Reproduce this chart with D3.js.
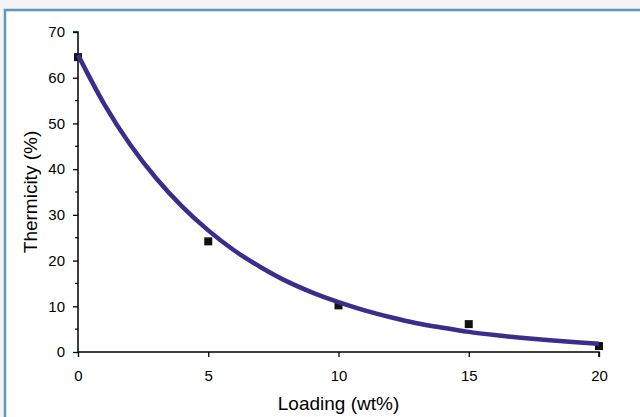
<!DOCTYPE html>
<html><head><meta charset="utf-8">
<script src="https://cdn.jsdelivr.net/npm/d3@7"></script>
<style>
html,body{margin:0;padding:0;background:#f4f4f4;}
svg{display:block;}
</style></head>
<body>
<svg id="chart" width="640" height="417"></svg>
<script>
// Data
const loading = [0, 5, 10, 15, 20];
const thermicity = [64.5, 24.2, 10.2, 6.1, 1.3];
// Fitted trend curve
const curveX = [0, 1, 2, 3, 4, 5, 6, 7, 8, 9, 10, 11, 12, 13, 14, 15, 16, 17, 18, 19, 20];
const curveY = [65.0, 54.3, 45.4, 38.0, 31.8, 26.6, 22.2, 18.6, 15.5, 13.0, 10.9, 9.1, 7.6, 6.3, 5.3, 4.4, 3.7, 3.1, 2.6, 2.2, 1.8];
const xTicks = [0, 5, 10, 15, 20];
const yTicks = [0, 10, 20, 30, 40, 50, 60, 70];
const yMinor = [5, 15, 25, 35, 45, 55, 65];

const svg = d3.select("#chart");
// panel frame
svg.append("rect").attr("x", 5).attr("y", 10).attr("width", 640).attr("height", 420)
  .attr("fill", "#ffffff").attr("stroke", "#5b98b9").attr("stroke-width", 2.5);

const x = d3.scaleLinear().domain([0, 20]).range([78, 599]);
const y = d3.scaleLinear().domain([0, 70]).range([352, 32]);

const font = "Liberation Sans, Arial, sans-serif";

// Y axis
const yAxis = svg.append("g").attr("transform", `translate(${x(0)},0)`)
  .call(d3.axisLeft(y).tickValues(yTicks).tickSize(5).tickPadding(8));
yAxis.select(".domain").attr("stroke", "#000").attr("stroke-width", 1.5).attr("d", `M-5,${y(70)}H0V${y(0)}`);
yAxis.selectAll(".tick line").attr("stroke", "#000").attr("stroke-width", 1.3);
yAxis.selectAll("text").attr("font-family", font).attr("font-size", 15).attr("fill", "#000");
svg.append("g").selectAll("line").data(yMinor).join("line")
  .attr("x1", x(0) - 3).attr("x2", x(0)).attr("y1", d => y(d)).attr("y2", d => y(d))
  .attr("stroke", "#000").attr("stroke-width", 1.2);

// X axis
const xAxis = svg.append("g").attr("transform", `translate(0,${y(0)})`)
  .call(d3.axisBottom(x).tickValues(xTicks).tickSize(5).tickPadding(13));
xAxis.select(".domain").attr("stroke", "#000").attr("stroke-width", 1.5).attr("d", `M${x(0)},0H${x(20)}V5`);
xAxis.selectAll(".tick line").attr("stroke", "#000").attr("stroke-width", 1.3);
xAxis.selectAll("text").attr("font-family", font).attr("font-size", 15).attr("fill", "#000");

// Axis titles
svg.append("text").attr("x", (x(0) + x(20)) / 2).attr("y", 410)
  .attr("text-anchor", "middle").attr("font-family", font).attr("font-size", 19).attr("fill", "#000")
  .text("Loading (wt%)");
svg.append("text").attr("transform", `translate(37,${y(35)}) rotate(-90)`)
  .attr("text-anchor", "middle").attr("font-family", font).attr("font-size", 19).attr("fill", "#000")
  .text("Thermicity (%)");

// Points
svg.append("g").selectAll("rect").data(loading.map((d, i) => [d, thermicity[i]])).join("rect")
  .attr("x", d => x(d[0]) - 4).attr("y", d => y(d[1]) - 4)
  .attr("width", 8).attr("height", 8).attr("fill", "#111");

// Trend curve
const line = d3.line().x(d => x(d[0])).y(d => y(d[1])).curve(d3.curveCatmullRom);
svg.append("path").datum(curveX.map((d, i) => [d, curveY[i]]))
  .attr("d", line).attr("fill", "none").attr("stroke", "#3a2d8c").attr("stroke-width", 4.5);
</script>
</body></html>
